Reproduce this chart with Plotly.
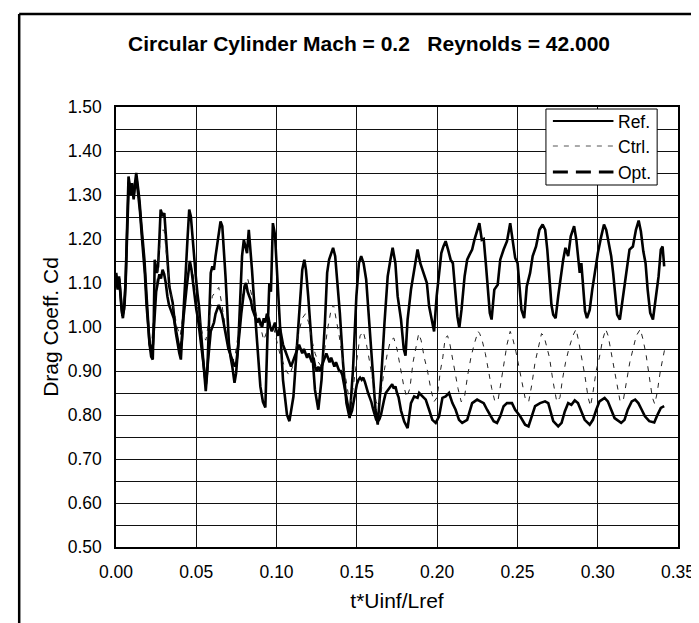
import plotly.graph_objects as go

# ---------------- data ----------------
t_ref = [0, 0.001, 0.0019, 0.0027, 0.0035, 0.0043, 0.0054, 0.006, 0.0068, 0.0078, 0.0089, 0.0099, 0.0109, 0.0118,
         0.0126, 0.0136, 0.0146, 0.0157, 0.0167, 0.0177, 0.0188, 0.0198, 0.0208, 0.0219, 0.0229, 0.0235, 0.0241,
         0.0254, 0.0262, 0.027, 0.0278, 0.0291, 0.0301, 0.0311, 0.0322, 0.0332, 0.0353, 0.0373, 0.0394, 0.0404,
         0.0414, 0.0425, 0.0435, 0.0445, 0.0456, 0.0466, 0.0476, 0.0487, 0.0497, 0.0507, 0.0517, 0.0528, 0.0538,
         0.0548, 0.0559, 0.0569, 0.0579, 0.059, 0.06, 0.061, 0.062, 0.0637, 0.0651, 0.0662, 0.0672, 0.0682, 0.0693,
         0.0703, 0.0713, 0.0724, 0.0738, 0.0748, 0.0761, 0.0775, 0.0785, 0.0796, 0.0806, 0.0816, 0.0827, 0.0837,
         0.0847, 0.0858, 0.0868, 0.0878, 0.0888, 0.0899, 0.0915, 0.093, 0.0945, 0.0955, 0.0965, 0.0977, 0.099, 0.1,
         0.102, 0.104, 0.1065, 0.108, 0.1105, 0.1125, 0.1146, 0.116, 0.1173, 0.1183, 0.1197, 0.1218, 0.1239, 0.126,
         0.128, 0.1301, 0.1315, 0.1327, 0.1342, 0.1352, 0.1365, 0.1373, 0.1394, 0.1414, 0.1435, 0.1455, 0.1476,
         0.1497, 0.1513, 0.1527, 0.1542, 0.1558, 0.1579, 0.16, 0.1616, 0.163, 0.1651, 0.1672, 0.1692, 0.1709,
         0.1723, 0.174, 0.1754, 0.1775, 0.1792, 0.1803, 0.1816, 0.1837, 0.1857, 0.1878, 0.1895, 0.1909, 0.1919,
         0.1936, 0.195, 0.1965, 0.1981, 0.1997, 0.2012, 0.2026, 0.2039, 0.2053, 0.2068, 0.2084, 0.2098, 0.2111,
         0.2126, 0.2138, 0.2152, 0.2171, 0.2187, 0.2201, 0.2218, 0.2232, 0.2249, 0.2263, 0.2278, 0.229, 0.2303,
         0.2315, 0.2328, 0.2339, 0.2356, 0.2377, 0.2393, 0.2414, 0.2435, 0.2455, 0.2472, 0.2486, 0.2501, 0.2513,
         0.2525, 0.2542, 0.2558, 0.2579, 0.2595, 0.2616, 0.2637, 0.2657, 0.2673, 0.2686, 0.2698, 0.2712, 0.2723,
         0.2738, 0.2754, 0.277, 0.2785, 0.2799, 0.2816, 0.2832, 0.2853, 0.2867, 0.2877, 0.2888, 0.2898, 0.2911,
         0.2921, 0.2933, 0.295, 0.2966, 0.2985, 0.3001, 0.3022, 0.3039, 0.3053, 0.3068, 0.3084, 0.3096, 0.3109,
         0.3121, 0.3138, 0.3157, 0.3177, 0.3198, 0.3219, 0.3238, 0.3255, 0.3269, 0.3284, 0.3298, 0.3311, 0.3327,
         0.3344, 0.3362, 0.3379, 0.3393, 0.3404, 0.3414]
cd_ref = [1.123, 1.085, 1.115, 1.07, 1.039, 1.02, 1.055, 1.108, 1.221, 1.342, 1.312, 1.327, 1.297, 1.335,
          1.35, 1.32, 1.289, 1.236, 1.198, 1.153, 1.085, 1.009, 0.964, 0.933, 0.926, 1.009, 1.153,
          1.123, 1.138, 1.198, 1.267, 1.252, 1.259, 1.206, 1.145, 1.092, 1.055, 0.986, 0.941, 0.926,
          0.994, 1.085, 1.13, 1.198, 1.267, 1.252, 1.206, 1.145, 1.115, 1.077, 1.047, 0.994, 0.948,
          0.903, 0.854, 0.903, 1.009, 1.123, 1.138, 1.13, 1.161, 1.206, 1.24, 1.229, 1.176, 1.115, 1.039,
          0.964, 0.933, 0.911, 0.873, 0.895, 0.956, 1.07, 1.161, 1.198, 1.183, 1.168, 1.221, 1.183,
          1.13, 1.07, 1.017, 0.971, 0.933, 0.865, 0.83, 0.817, 1.0, 1.1, 1.08, 1.236, 1.21, 1.14,
          1.0, 0.88, 0.80, 0.786, 0.842, 0.948, 1.055, 1.13, 1.153, 1.13, 1.07, 0.956, 0.857, 0.812,
          0.88, 1.009, 1.123, 1.153, 1.168, 1.18, 1.161, 1.13, 1.032, 0.918, 0.827, 0.793, 0.903,
          1.07, 1.145, 1.161, 1.145, 1.108, 0.994, 0.88, 0.812, 0.778, 0.88, 1.009, 1.115, 1.153,
          1.18, 1.145, 1.07, 1.017, 0.95, 0.935, 1.017, 1.085, 1.13, 1.176, 1.145, 1.13, 1.115,
          1.1, 1.047, 1.017, 0.99, 1.07, 1.115, 1.168, 1.183, 1.195, 1.176, 1.153, 1.145, 1.085,
          1.024, 0.998, 1.04, 1.115, 1.153, 1.164, 1.176, 1.198, 1.217, 1.236, 1.198, 1.2, 1.145,
          1.085, 1.032, 1.017, 1.085, 1.096, 1.153, 1.176, 1.195, 1.236, 1.198, 1.157, 1.145, 1.1,
          1.039, 1.02, 1.092, 1.123, 1.161, 1.183, 1.221, 1.233, 1.221, 1.176, 1.108, 1.05, 1.028,
          1.02, 1.07, 1.115, 1.153, 1.18, 1.161, 1.206, 1.229, 1.198, 1.168, 1.123, 1.145, 1.085,
          1.036, 1.02, 1.039, 1.085, 1.13, 1.168, 1.206, 1.233, 1.221, 1.191, 1.161, 1.123, 1.07,
          1.028, 1.017, 1.07, 1.123, 1.176, 1.183, 1.221, 1.242, 1.217, 1.172, 1.145, 1.085, 1.032,
          1.017, 1.07, 1.115, 1.176, 1.183, 1.138]

t_ctrl = [0, 0.002, 0.004, 0.006, 0.008, 0.010, 0.012, 0.014, 0.016, 0.018, 0.020, 0.022, 0.024, 0.026, 0.028,
          0.030, 0.032, 0.034, 0.036, 0.038, 0.040, 0.042, 0.044, 0.046, 0.048, 0.050, 0.052, 0.054, 0.056,
          0.058, 0.060, 0.062, 0.064, 0.066, 0.068, 0.070, 0.072, 0.074, 0.076, 0.078, 0.080, 0.082, 0.084,
          0.086, 0.088, 0.090, 0.092, 0.094, 0.096, 0.098, 0.100, 0.102, 0.104, 0.106, 0.108, 0.110, 0.112,
          0.114, 0.116, 0.118, 0.120, 0.122, 0.124, 0.126, 0.128, 0.130, 0.132, 0.134, 0.1355, 0.137, 0.139,
          0.141, 0.143, 0.145, 0.1465, 0.148, 0.150, 0.152, 0.154, 0.156, 0.158, 0.160, 0.162, 0.1635, 0.165,
          0.167, 0.169, 0.171, 0.173, 0.175, 0.177, 0.179, 0.181, 0.183, 0.185, 0.187, 0.1885, 0.190, 0.192,
          0.194, 0.196, 0.198, 0.200, 0.202, 0.2035, 0.205, 0.2065, 0.208, 0.2095, 0.211, 0.213, 0.215, 0.217,
          0.219, 0.221, 0.223, 0.2255, 0.2265, 0.228, 0.230, 0.232, 0.234, 0.236, 0.238, 0.240, 0.242, 0.2435,
          0.2455, 0.247, 0.249, 0.251, 0.253, 0.255, 0.257, 0.259, 0.261, 0.263, 0.265, 0.2665, 0.268, 0.270,
          0.272, 0.2745, 0.2765, 0.278, 0.280, 0.282, 0.2845, 0.2865, 0.288, 0.290, 0.292, 0.294, 0.2955,
          0.297, 0.299, 0.301, 0.303, 0.305, 0.3065, 0.308, 0.310, 0.312, 0.314, 0.316, 0.318, 0.320, 0.322,
          0.324, 0.3265, 0.328, 0.330, 0.332, 0.334, 0.3355, 0.337, 0.339, 0.3405, 0.342]
cd_ctrl = [1.123, 1.10, 1.03, 1.10, 1.32, 1.31, 1.33, 1.30, 1.22, 1.12, 1.0, 0.95, 1.05, 1.12, 1.22,
           1.22, 1.14, 1.08, 1.04, 1.0, 0.98, 1.04, 1.10, 1.15, 1.12, 1.06, 1.02, 0.98, 0.97,
           1.02, 1.07, 1.08, 1.09, 1.05, 1.0, 0.95, 0.92, 0.93, 0.98, 1.05, 1.10, 1.11, 1.08,
           1.05, 1.02, 1.0, 0.97, 0.99, 1.01, 1.0, 0.97, 0.94, 0.92, 0.90, 0.89, 0.91, 0.95,
           0.99, 1.02, 1.03, 1.01, 0.97, 0.94, 0.92, 0.91, 0.95, 1.0, 1.04, 1.05, 1.02, 0.98,
           0.93, 0.88, 0.84, 0.83, 0.87, 0.93, 0.98, 0.99, 0.96, 0.92, 0.87, 0.83, 0.82, 0.85,
           0.90, 0.94, 0.97, 0.975, 0.95, 0.91, 0.87, 0.84, 0.86, 0.92, 0.96, 0.985, 0.97, 0.93,
           0.90, 0.86, 0.83, 0.84, 0.90, 0.93, 0.975, 0.98, 0.96, 0.93, 0.90, 0.86, 0.83, 0.84,
           0.89, 0.93, 0.96, 0.99, 0.985, 0.97, 0.94, 0.90, 0.86, 0.83, 0.835, 0.88, 0.93, 0.96,
           0.99, 0.975, 0.945, 0.91, 0.87, 0.835, 0.83, 0.87, 0.92, 0.95, 0.985, 0.98, 0.96, 0.93,
           0.88, 0.83, 0.84, 0.88, 0.92, 0.95, 0.98, 0.995, 0.97, 0.93, 0.89, 0.84, 0.82,
           0.85, 0.90, 0.93, 0.97, 0.995, 0.98, 0.95, 0.91, 0.87, 0.83, 0.835, 0.88, 0.92, 0.95,
           0.98, 0.995, 0.975, 0.94, 0.89, 0.84, 0.825, 0.85, 0.90, 0.93, 0.955]

t_opt = [0, 0.001, 0.002, 0.003, 0.004, 0.005, 0.006, 0.007, 0.008, 0.009, 0.010, 0.011, 0.012, 0.013, 0.014,
         0.015, 0.016, 0.017, 0.018, 0.019, 0.020, 0.021, 0.022, 0.023, 0.024, 0.025, 0.026, 0.027, 0.028,
         0.029, 0.030, 0.031, 0.032, 0.033, 0.034, 0.035, 0.036, 0.037, 0.038, 0.039, 0.040, 0.041, 0.042,
         0.043, 0.044, 0.045, 0.046, 0.047, 0.048, 0.049, 0.050, 0.051, 0.052, 0.053, 0.054, 0.055, 0.056,
         0.057, 0.058, 0.059, 0.060, 0.061, 0.062, 0.063, 0.064, 0.065, 0.066, 0.067, 0.068, 0.069, 0.070,
         0.071, 0.072, 0.073, 0.074, 0.075, 0.076, 0.077, 0.078, 0.079, 0.080, 0.081, 0.082, 0.083, 0.084,
         0.085, 0.086, 0.087, 0.088, 0.089, 0.090, 0.091, 0.092, 0.093, 0.094, 0.095, 0.096, 0.097, 0.098,
         0.099, 0.100, 0.101, 0.102, 0.103, 0.104, 0.105, 0.106, 0.107, 0.108, 0.109, 0.110, 0.111, 0.112,
         0.113, 0.114, 0.115, 0.116, 0.117, 0.118, 0.119, 0.120, 0.121, 0.122, 0.123, 0.124, 0.125, 0.126,
         0.127, 0.128, 0.129, 0.130, 0.131, 0.132, 0.133, 0.134, 0.135, 0.136, 0.137, 0.138, 0.139, 0.140,
         0.141, 0.142, 0.143, 0.144, 0.145, 0.146, 0.147, 0.148, 0.149, 0.150, 0.151, 0.152, 0.153, 0.154,
         0.155, 0.156, 0.157, 0.158, 0.159, 0.160, 0.161, 0.162, 0.163, 0.164, 0.165, 0.166, 0.167, 0.168,
         0.169, 0.170, 0.171, 0.172, 0.173, 0.174, 0.175, 0.176, 0.1775, 0.1795, 0.1816, 0.1837, 0.1857,
         0.1878, 0.1888, 0.1909, 0.1929, 0.195, 0.197, 0.1991, 0.2012, 0.2033, 0.2053, 0.2074, 0.2095,
         0.2115, 0.2136, 0.2156, 0.2187, 0.2218, 0.2249, 0.2269, 0.229, 0.2311, 0.2332, 0.2352, 0.2373,
         0.2393, 0.2414, 0.2435, 0.2466, 0.2486, 0.2517, 0.2548, 0.2569, 0.2589, 0.261, 0.2641, 0.2672,
         0.2692, 0.2723, 0.2754, 0.2775, 0.2795, 0.2816, 0.2836, 0.2857, 0.2877, 0.2898, 0.2919, 0.295,
         0.297, 0.2991, 0.3011, 0.3043, 0.3063, 0.3084, 0.3105, 0.3146, 0.3167, 0.3187, 0.3212, 0.3233,
         0.3253, 0.3274, 0.3294, 0.3321, 0.3352, 0.3373, 0.3393, 0.3414]
cd_opt = [1.123, 1.09, 1.11, 1.06, 1.025, 1.04, 1.10, 1.22, 1.33, 1.30, 1.32, 1.29, 1.33, 1.33, 1.30,
          1.26, 1.21, 1.17, 1.12, 1.05, 1.0, 0.96, 0.945, 0.96, 1.02, 1.08, 1.10, 1.12, 1.11,
          1.13, 1.12, 1.10, 1.07, 1.05, 1.04, 1.03, 1.02, 1.0, 0.98, 0.96, 0.95, 0.97, 1.02,
          1.06, 1.09, 1.12, 1.15, 1.13, 1.10, 1.06, 1.04, 1.02, 0.99, 0.96, 0.93, 0.89, 0.87,
          0.91, 0.96, 0.99, 1.0, 1.01, 1.03, 1.04, 1.05, 1.04, 1.03, 1.01, 0.99, 0.97, 0.95,
          0.94, 0.93, 0.92, 0.91, 0.92, 0.95, 0.99, 1.03, 1.06, 1.09, 1.10, 1.08, 1.07, 1.06,
          1.04, 1.03, 1.02, 1.01, 1.02, 1.01, 1.0, 1.02, 1.01, 1.03, 1.02, 1.0, 0.99, 1.0,
          1.01, 0.99, 0.98, 1.0, 0.98, 0.96, 0.95, 0.94, 0.93, 0.92, 0.91, 0.92, 0.93, 0.94,
          0.95, 0.96, 0.95, 0.94, 0.95, 0.94, 0.93, 0.94, 0.93, 0.92, 0.93, 0.91, 0.90, 0.91,
          0.90, 0.91, 0.92, 0.93, 0.94, 0.93, 0.92, 0.93, 0.92, 0.91, 0.92, 0.91, 0.90, 0.90,
          0.89, 0.87, 0.85, 0.83, 0.81, 0.80, 0.81, 0.83, 0.85, 0.87, 0.88, 0.885, 0.88, 0.885,
          0.875, 0.86, 0.85, 0.84, 0.83, 0.815, 0.80, 0.79, 0.785, 0.79, 0.80, 0.82, 0.835, 0.85,
          0.855, 0.86, 0.865, 0.87, 0.86, 0.865, 0.85, 0.84, 0.81, 0.785, 0.77, 0.827, 0.842,
          0.839, 0.85, 0.842, 0.835, 0.812, 0.789, 0.782, 0.797, 0.839, 0.842, 0.85, 0.827,
          0.812, 0.789, 0.782, 0.789, 0.827, 0.835, 0.831, 0.827, 0.812, 0.797, 0.786, 0.782,
          0.797, 0.82, 0.827, 0.827, 0.812, 0.797, 0.778, 0.774, 0.797, 0.82, 0.827, 0.831,
          0.827, 0.786, 0.774, 0.782, 0.808, 0.827, 0.823, 0.833, 0.827, 0.808, 0.789, 0.778,
          0.789, 0.812, 0.831, 0.839, 0.831, 0.812, 0.793, 0.782, 0.789, 0.812, 0.831, 0.835,
          0.827, 0.812, 0.797, 0.786, 0.783, 0.801, 0.816, 0.82]

series_names = ["Ref.", "Ctrl.", "Opt."]
x_tick_vals = [0.00, 0.05, 0.10, 0.15, 0.20, 0.25, 0.30, 0.35]
x_tick_text = ["0.00", "0.05", "0.10", "0.15", "0.20", "0.25", "0.30", "0.35"]
y_tick_vals = [0.5, 0.6, 0.7, 0.8, 0.9, 1.0, 1.1, 1.2, 1.3, 1.4, 1.5]
y_tick_text = ["0.50", "0.60", "0.70", "0.80", "0.90", "1.00", "1.10", "1.20", "1.30", "1.40", "1.50"]
y_minor_vals = [0.55, 0.65, 0.75, 0.85, 0.95, 1.05, 1.15, 1.25, 1.35, 1.45]

FONT = "Liberation Sans, Arial, Helvetica, sans-serif"
W, H = 699, 623
L, R, T, B = 108, 674, 99, 539  # plot area in pixels

def px_x(px):
    return (px - L) / (R - L)

def px_y(py):
    return (B - py) / (B - T)

styles = [dict(color="black", width=2.6),
          dict(color="#222222", width=1, dash="5px,6px"),
          dict(color="black", width=2.6)]
legend_styles = [dict(color="black", width=2.2),
                 dict(color="#555555", width=1, dash="5px,6px"),
                 dict(color="black", width=3.2, dash="15px,8px")]

fig = go.Figure()
for name, xs, ys, st in zip(series_names, [t_ref, t_ctrl, t_opt], [cd_ref, cd_ctrl, cd_opt], styles):
    fig.add_trace(go.Scatter(x=xs, y=ys, mode="lines", name=name, line=st, showlegend=False))

grid = dict(showgrid=True, gridcolor="#111111", gridwidth=1)
fig.update_xaxes(range=[0, 0.35], tickvals=x_tick_vals, ticktext=x_tick_text, ticks="",
                 ticklabelstandoff=8, showline=True, linecolor="black", linewidth=1.5,
                 mirror=True, zeroline=False,
                 title=dict(text="t*Uinf/Lref", standoff=13), **grid)
fig.update_yaxes(range=[0.5, 1.5], tickvals=y_tick_vals, ticktext=y_tick_text, ticks="",
                 ticklabelstandoff=9, showline=True, linecolor="black", linewidth=1.5,
                 mirror=True, zeroline=False,
                 minor=dict(tickvals=y_minor_vals, showgrid=True, gridcolor="#111111", gridwidth=1),
                 title=dict(text="Drag Coeff. Cd", standoff=3), **grid)

# legend box (drawn like the original spreadsheet legend)
leg_x0, leg_x1, leg_y0, leg_y1 = 541, 653, 101, 177
row_y = [113, 138, 164]
shapes = [
    dict(type="rect", xref="paper", yref="paper", x0=px_x(leg_x0), x1=px_x(leg_x1),
         y0=px_y(leg_y1), y1=px_y(leg_y0), fillcolor="white",
         line=dict(color="black", width=1), layer="above"),
]
annotations = []
for name, ry, st in zip(series_names, row_y, legend_styles):
    shapes.append(dict(type="line", xref="paper", yref="paper", x0=px_x(548), x1=px_x(609),
                       y0=px_y(ry), y1=px_y(ry), line=st, layer="above"))
    annotations.append(dict(text=name, xref="paper", yref="paper", x=px_x(612), y=px_y(ry + 1),
                            xanchor="left", yanchor="middle", showarrow=False,
                            font=dict(family=FONT, size=17.5, color="black")))
# outer chart-area frame
shapes += [
    dict(type="line", xref="paper", yref="paper", x0=px_x(10.5), x1=px_x(760),
         y0=px_y(6), y1=px_y(6), line=dict(color="black", width=2.5)),
    dict(type="line", xref="paper", yref="paper", x0=px_x(10.5), x1=px_x(10.5),
         y0=px_y(6), y1=px_y(700), line=dict(color="black", width=2.5)),
]

fig.update_layout(
    width=W, height=H,
    margin=dict(l=L, r=W - R, t=T, b=H - B),
    paper_bgcolor="white", plot_bgcolor="white",
    font=dict(family=FONT, size=17.5, color="black"),
    title=dict(text="Circular Cylinder Mach = 0.2\u00a0\u00a0\u00a0Reynolds = 42.000",
               x=361 / W, y=1 - 36 / H, xref="container", yref="container",
               xanchor="center", yanchor="middle",
               font=dict(family=FONT, size=21, color="black", weight="bold")),
    showlegend=False,
    shapes=shapes,
    annotations=annotations,
)

fig.write_html("out.html")
